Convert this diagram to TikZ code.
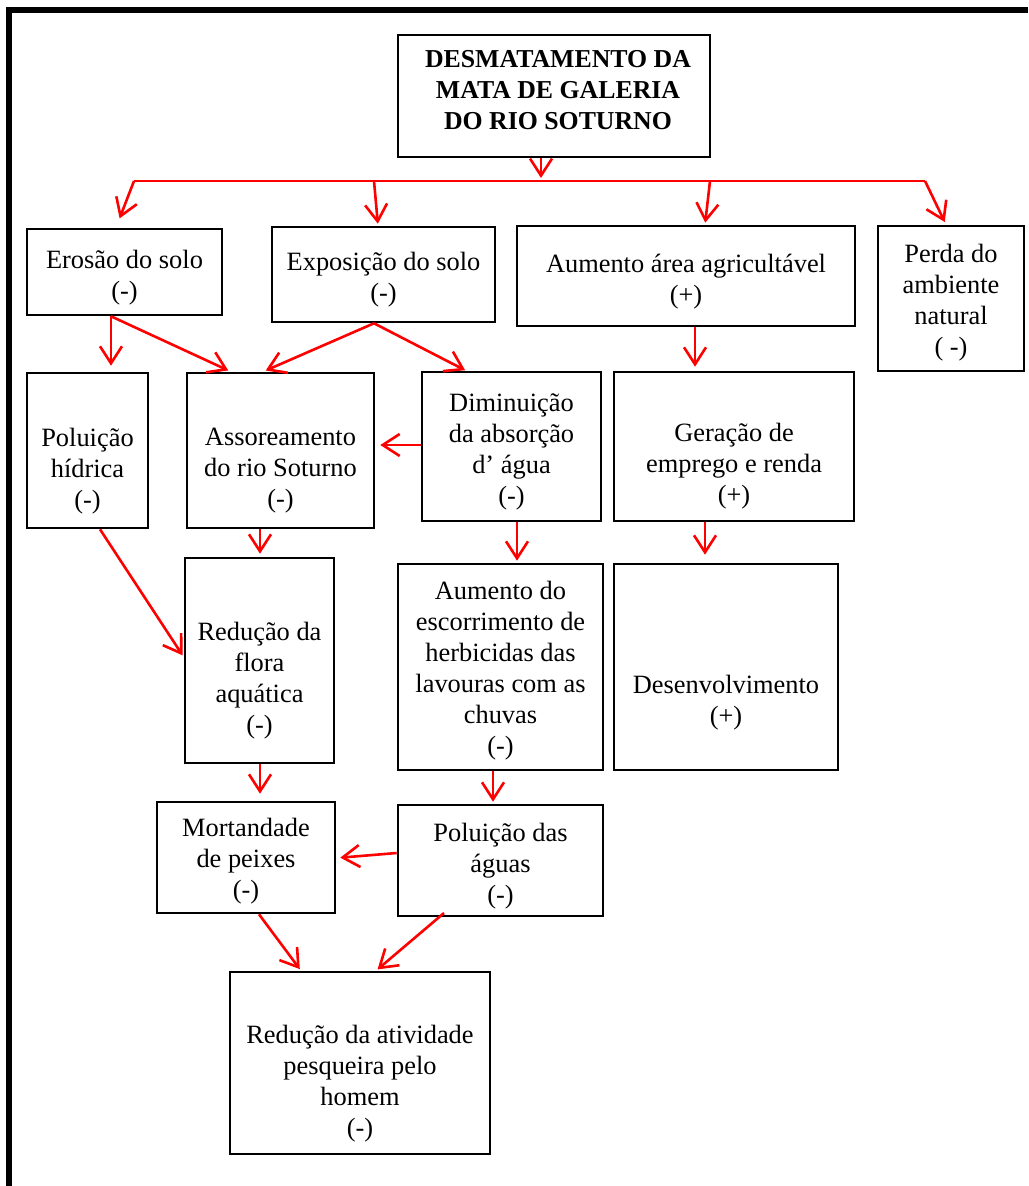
\documentclass[tikz,border=0pt]{standalone}
\usepackage{fontspec}
\setmainfont{Liberation Serif}
\usetikzlibrary{arrows.meta,fit,calc}
\begin{document}
\begin{tikzpicture}[x=0.5pt,y=-0.5pt,
  box/.style={draw=black, line width=1.3pt, inner sep=0pt},
  txt/.style={align=center, inner sep=0pt, font=\fontsize{13.2pt}{15.5pt}\selectfont},
  arr/.style={draw=red, line width=1.3pt, -{Straight Barb[length=8.5pt,width=11pt]}},
  lnk/.style={draw=red, line width=1.3pt},
  frame/.style={draw=black, line width=2.8pt}]
\useasboundingbox (0,0) rectangle (1028,1186);
% outer frame (left and top edges)
\draw[frame] (9,1186) -- (9,10) -- (1028,10);

% boxes
\node[box, fit={(398,35) (710,157)}] (top) {};
\node[box, fit={(27,229) (222,315)}] (ero) {};
\node[box, fit={(272,227) (495,322)}] (expo) {};
\node[box, fit={(517,226) (855,326)}] (aum) {};
\node[box, fit={(878,226) (1024,371)}] (perda) {};
\node[box, fit={(27,373) (148,528)}] (polh) {};
\node[box, fit={(187,373) (374,528)}] (asso) {};
\node[box, fit={(422,372) (601,521)}] (dim) {};
\node[box, fit={(614,372) (854,521)}] (ger) {};
\node[box, fit={(185,558) (334,763)}] (flora) {};
\node[box, fit={(398,564) (603,770)}] (esc) {};
\node[box, fit={(614,564) (838,770)}] (des) {};
\node[box, fit={(157,802) (335,913)}] (mort) {};
\node[box, fit={(398,805) (603,916)}] (polag) {};
\node[box, fit={(230,972) (490,1154)}] (red) {};

% texts
\node[txt, font=\fontsize{12.9pt}{15.5pt}\selectfont\bfseries] (ttop) at (558,90) {DESMATAMENTO DA\\MATA DE GALERIA\\DO RIO SOTURNO};
\node[txt] (tero) at (124.5,278) {Erosão do solo\\(-)};
\node[txt] (texpo) at (383.5,280) {Exposição do solo\\(-)};
\node[txt] (taum) at (686,282) {Aumento área agricultável\\(+)};
\node[txt] (tperda) at (951,303) {Perda do\\ambiente\\natural\\( -)};
\node[txt] (tpolh) at (87.5,471) {Poluição\\hídrica\\(-)};
\node[txt] (tasso) at (280.5,471) {Assoreamento\\do rio Soturno\\(-)};
\node[txt] (tdim) at (511.5,452) {Diminuição\\da absorção\\d’ água\\(-)};
\node[txt] (tger) at (734,466) {Geração de\\emprego e renda\\(+)};
\node[txt] (tflora) at (259.5,681) {Redução da\\flora\\aquática\\(-)};
\node[txt] (tesc) at (500.5,671) {Aumento do\\escorrimento de\\herbicidas das\\lavouras com as\\chuvas\\(-)};
\node[txt] (tdes) at (726,703) {Desenvolvimento\\(+)};
\node[txt] (tmort) at (246,861) {Mortandade\\de peixes\\(-)};
\node[txt] (tpolag) at (500.5,866) {Poluição das\\águas\\(-)};
\node[txt] (tred) at (360,1084) {Redução da atividade\\pesqueira pelo\\homem\\(-)};

% distribution line
\coordinate (hl) at (134,181);
\coordinate (hm) at (541,181);
\coordinate (he) at (374,181);
\coordinate (ha) at (710,181);
\coordinate (hr) at (925,181);
\draw[lnk] (hl) -- (hr);
\draw[arr] (541,0 |- top.south) -- ($(hm)+(0,-3)$);
\draw[arr, shorten >=5pt] (hl) -- (116,0 |- ero.north);
\draw[arr, shorten >=1pt] (he) -- (378,0 |- expo.north);
\draw[arr, shorten >=1pt] (ha) -- (705,0 |- aum.north);
\draw[arr, shorten >=1.5pt] (hr) -- (946,0 |- perda.north);

% second level
\draw[arr, shorten >=3pt] (111,0 |- ero.south) -- (111,0 |- polh.north);
\draw[arr, shorten >=1.5pt] (111,0 |- ero.south) -- (231,0 |- asso.north);
\draw[arr, shorten >=1.5pt] (374,0 |- expo.south) -- (263,0 |- asso.north);
\draw[arr, shorten >=0.5pt] (374,0 |- expo.south) -- (466,0 |- dim.north);
\draw[arr, shorten >=2.5pt] (dim.west |- 0,445) -- (asso.east |- 0,445);
\draw[arr, shorten >=2pt] (695,0 |- aum.south) -- (695,0 |- ger.north);

% third level
\draw[arr, shorten >=1.5pt] (260,0 |- asso.south) -- (260,0 |- flora.north);
\draw[arr, shorten >=1pt] (517,0 |- dim.south) -- (517,0 |- esc.north);
\draw[arr, shorten >=4pt] (705,0 |- ger.south) -- (705,0 |- des.north);
\draw[arr, shorten >=1pt] (100,0 |- polh.south) -- (flora.west |- 0,657);

% fourth level
\draw[arr, shorten >=3.5pt] (260,0 |- flora.south) -- (260,0 |- mort.north);
\draw[arr, shorten >=1pt] (493,0 |- esc.south) -- (493,0 |- polag.north);
\draw[arr, shorten >=2pt] (polag.west |- 0,853) -- (mort.east |- 0,858);
\draw[arr, shorten >=1pt] (259,0 |- mort.south) -- (301,0 |- red.north);
\draw[arr, shorten >=1pt] (444,913) -- (376,0 |- red.north);
\end{tikzpicture}
\end{document}
